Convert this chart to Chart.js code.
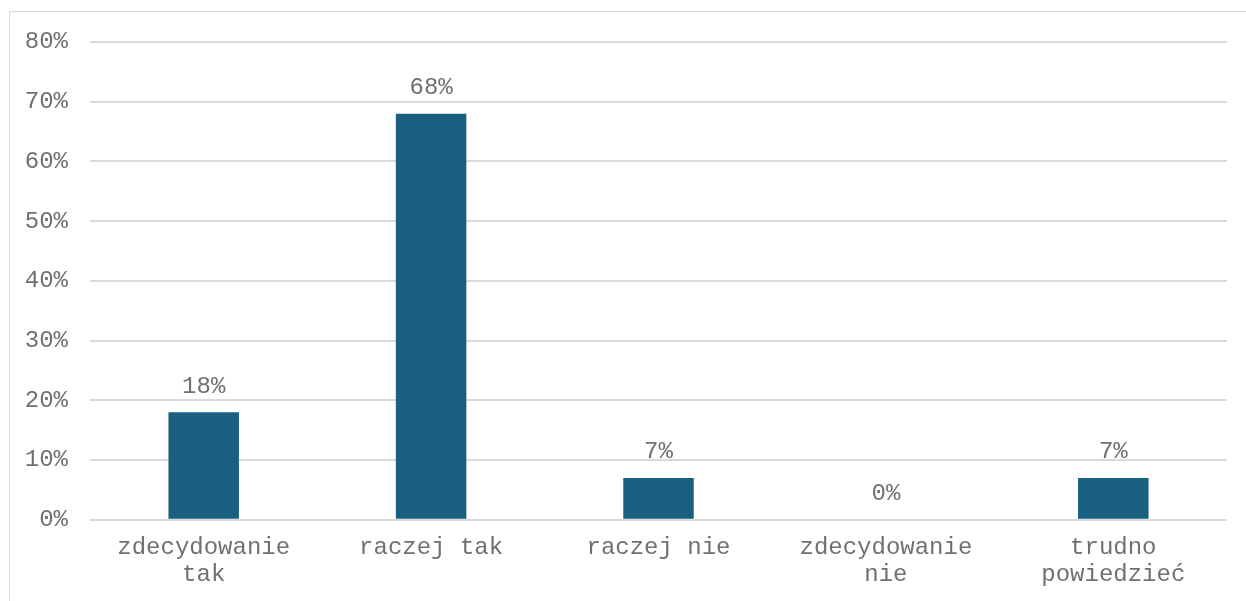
<!DOCTYPE html>
<html lang="pl">
<head>
    <meta charset="UTF-8">
    <title>Wykres</title>
    <script src="https://cdn.jsdelivr.net/npm/chart.js"></script>
    <style>
        html, body { margin: 0; padding: 0; background: #fff; }
        .ramka {
            position: absolute; left: 9px; top: 11px; width: 1260px; height: 620px;
            border: 1px solid #d9d9d9; box-sizing: border-box;
        }
        .wykres { position: absolute; left: 0; top: 0; width: 1246px; height: 601px; }
    </style>
</head>
<body>
    <div class="ramka"></div>
    <div class="wykres"><canvas id="myChart"></canvas></div>

    <script>
        const kategorie = [['zdecydowanie', 'tak'], 'raczej tak', 'raczej nie', ['zdecydowanie', 'nie'], ['trudno', 'powiedzieć']];
        const wartosci = [18, 68, 7, 0, 7];
        const osY = { min: 0, max: 80, krok: 10 };

        const czcionka = { family: "'Liberation Mono', 'Courier New', monospace", size: 24, lineHeight: 1.13 };
        const szary = '#707070';

        // etykiety z wartościami nad słupkami
        const etykiety = {
            id: 'etykiety',
            afterDatasetsDraw(chart) {
                const ctx = chart.ctx;
                const meta = chart.getDatasetMeta(0);
                ctx.save();
                ctx.font = `${czcionka.size}px ${czcionka.family}`;
                ctx.fillStyle = szary;
                ctx.textAlign = 'center';
                ctx.textBaseline = 'middle';
                meta.data.forEach((bar, i) => {
                    ctx.fillText(wartosci[i] + '%', bar.x, bar.y - 26);
                });
                ctx.restore();
            }
        };

        new Chart(document.getElementById('myChart'), {
            type: 'bar',
            data: {
                labels: kategorie,
                datasets: [{
                    data: wartosci,
                    backgroundColor: '#185f80',
                    barPercentage: 0.62,
                    categoryPercentage: 0.5
                }]
            },
            options: {
                responsive: true,
                maintainAspectRatio: false,
                animation: false,
                layout: { padding: { top: 42, right: 19, bottom: 7, left: 25 } },
                plugins: { legend: { display: false }, tooltip: { enabled: false } },
                scales: {
                    x: {
                        grid: { display: false },
                        border: { display: false },
                        ticks: { color: szary, font: czcionka, padding: 6, maxRotation: 0 }
                    },
                    y: {
                        min: osY.min,
                        max: osY.max,
                        grid: { color: '#d9d9d9', lineWidth: 2, drawTicks: false },
                        border: { display: false },
                        afterFit: s => { s.width = 65; },
                        ticks: {
                            stepSize: osY.krok,
                            color: szary,
                            font: czcionka,
                            padding: 22,
                            callback: v => v + '%'
                        }
                    }
                }
            },
            plugins: [etykiety]
        });
    </script>
</body>
</html>
